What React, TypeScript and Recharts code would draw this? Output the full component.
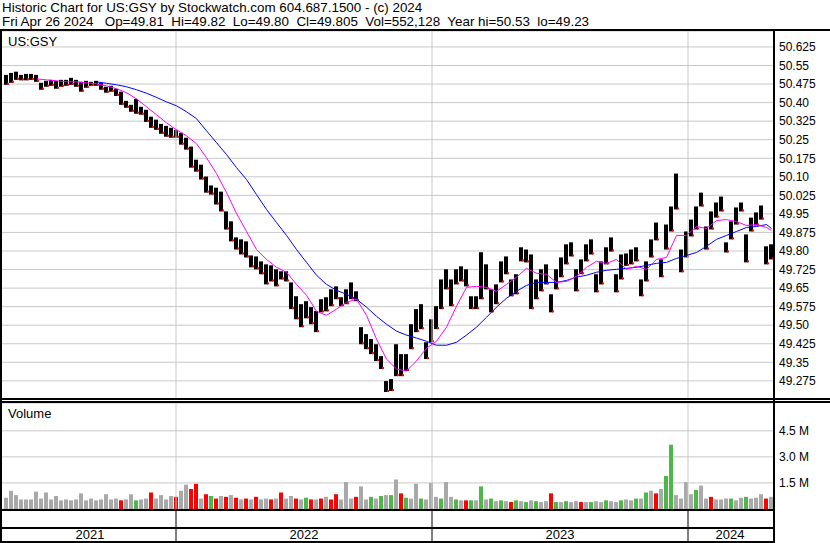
import { ComposedChart, Bar, Line, XAxis, YAxis, CartesianGrid, ReferenceLine, Cell } from 'recharts';

const _ = null;
const FONT = "'Liberation Sans', Arial, sans-serif";

// weekly price ranges (week 0 = first week shown)
const lows = [
  50.472, 50.48, 50.492, 50.49, 50.49, 50.492, 50.484, 50.452, 50.464, 50.468,
  50.456, 50.464, 50.468, 50.472, 50.464, 50.444, 50.46, 50.468, 50.468, 50.452,
  50.44, 50.444, 50.427, 50.391, 50.379, 50.363, 50.355, 50.351, 50.322, 50.298,
  50.29, 50.274, 50.262, 50.258, 50.258, 50.23, 50.21, 50.137, 50.121, 50.089,
  50.036, 50.028, 49.988, 49.96, 49.887, 49.839, 49.806, 49.786, 49.774, 49.734,
  49.726, 49.706, 49.665, 49.677, 49.657, 49.685, 49.677, 49.565, 49.524, 49.492,
  49.528, 49.504, 49.472, 49.552, 49.556, 49.577, 49.605, 49.577, 49.585, 49.605,
  49.597, 49.423, 49.403, 49.383, 49.355, 49.323, 49.23, 49.234, 49.294, 49.294,
  49.315, 49.403, 49.472, 49.484, 49.363, 49.431, 49.484, 49.565, 49.645, 49.577,
  49.665, 49.677, 49.657, 49.565, 49.565, 49.605, 49.645, 49.552, 49.585, 49.673,
  49.706, 49.617, 49.625, 49.758, 49.754, 49.565, 49.605, 49.637, 49.665, 49.552,
  49.645, 49.694, 49.746, 49.778, 49.637, 49.706, 49.758, 49.786, 49.633, 49.665,
  49.746, 49.798, 49.633, 49.685, 49.74, 49.746, 49.758, 49.617, 49.677, 49.774,
  49.843, 49.694, 49.806, 49.879, 49.968, 49.714, 49.774, 49.859, 49.887, 49.98,
  49.806, 49.887, 49.935, 49.96, 49.794, 49.847, 49.907, 49.96, 49.754, 49.879,
  49.903, 49.927, 49.746, 49.766,
];

const highs = [
  50.512, 50.52, 50.525, 50.512, 50.516, 50.516, 50.512, 50.48, 50.488, 50.492,
  50.488, 50.492, 50.492, 50.5, 50.492, 50.484, 50.488, 50.484, 50.488, 50.48,
  50.464, 50.468, 50.456, 50.444, 50.407, 50.391, 50.415, 50.383, 50.371, 50.343,
  50.331, 50.314, 50.306, 50.298, 50.29, 50.278, 50.258, 50.222, 50.169, 50.149,
  50.101, 50.065, 50.056, 50.04, 49.96, 49.92, 49.855, 49.847, 49.839, 49.782,
  49.778, 49.758, 49.746, 49.742, 49.726, 49.718, 49.718, 49.673, 49.617, 49.585,
  49.597, 49.573, 49.557, 49.605, 49.613, 49.645, 49.657, 49.613, 49.645, 49.673,
  49.637, 49.492, 49.464, 49.444, 49.423, 49.375, 49.274, 49.282, 49.423, 49.383,
  49.383, 49.504, 49.565, 49.585, 49.431, 49.524, 49.577, 49.685, 49.726, 49.685,
  49.726, 49.738, 49.726, 49.617, 49.617, 49.795, 49.746, 49.645, 49.665, 49.758,
  49.778, 49.685, 49.706, 49.815, 49.806, 49.786, 49.685, 49.726, 49.746, 49.625,
  49.726, 49.774, 49.827, 49.835, 49.726, 49.766, 49.827, 49.847, 49.706, 49.758,
  49.815, 49.855, 49.706, 49.786, 49.79, 49.806, 49.815, 49.685, 49.758, 49.847,
  49.915, 49.766, 49.907, 49.98, 50.113, 49.806, 49.879, 49.927, 49.98, 50.036,
  49.899, 49.96, 49.996, 50.02, 49.835, 49.92, 49.976, 49.996, 49.867, 49.935,
  49.956, 49.984, 49.819, 49.827,
];

// moving averages, read every other week
const fastMA = [
  _, _, _, _, _, _, 50.496, _, 50.492, _,
  50.488, _, 50.484, _, 50.484, _, 50.48, _, 50.476, _,
  50.468, _, 50.456, _, 50.44, _, 50.415, _, 50.383, _,
  50.351, _, 50.318, _, 50.29, _, 50.266, _, 50.234, _,
  50.177, _, 50.113, _, 50.036, _, 49.952, _, 49.879, _,
  49.806, _, 49.766, _, 49.734, _, 49.714, _, 49.665, _,
  49.621, _, 49.556, _, 49.54, _, 49.565, _, 49.593, _,
  49.605, _, 49.54, _, 49.444, _, 49.363, _, 49.323, _,
  49.315, _, 49.355, _, 49.407, _, 49.435, _, 49.492, _,
  49.577, _, 49.653, _, 49.657, _, 49.653, _, 49.637, _,
  49.665, _, 49.694, _, 49.73, _, 49.71, _, 49.706, _,
  49.673, _, 49.677, _, 49.698, _, 49.734, _, 49.758, _,
  49.75, _, 49.766, _, 49.726, _, 49.738, _, 49.726, _,
  49.766, _, 49.774, _, 49.863, _, 49.863, _, 49.899, _,
  49.891, _, 49.923, _, 49.927, _, 49.919, _, 49.903, _,
  49.907, _, 49.895, 49.883,
];

const slowMA = [
  _, _, _, _, _, _, _, _, _, _,
  _, _, _, _, _, _, _, _, 50.484, _,
  50.478, _, 50.472, _, 50.464, _, 50.452, _, 50.438, _,
  50.421, _, 50.403, _, 50.387, _, 50.363, _, 50.335, _,
  50.286, _, 50.238, _, 50.19, _, 50.137, _, 50.089, _,
  50.028, _, 49.968, _, 49.915, _, 49.863, _, 49.806, _,
  49.754, _, 49.702, _, 49.665, _, 49.641, _, 49.625, _,
  49.605, _, 49.573, _, 49.536, _, 49.504, _, 49.476, _,
  49.46, _, 49.448, _, 49.435, _, 49.419, _, 49.419, _,
  49.431, _, 49.46, _, 49.492, _, 49.532, _, 49.573, _,
  49.609, _, 49.637, _, 49.661, _, 49.673, _, 49.673, _,
  49.673, _, 49.681, _, 49.694, _, 49.702, _, 49.714, _,
  49.722, _, 49.726, _, 49.73, _, 49.734, _, 49.742, _,
  49.75, _, 49.754, _, 49.77, _, 49.782, _, 49.794, _,
  49.819, _, 49.847, _, 49.863, _, 49.879, _, 49.895, _,
  49.899, _, 49.907, 49.891,
];

// volume in millions, with bar tone (g grey, r red, u green)
const volumeM = [
  0.65, 1.05, 0.8, 0.55, 0.55, 0.55, 1.0, 0.6, 0.95, 0.55,
  0.75, 0.5, 0.55, 0.5, 0.55, 0.9, 0.5, 0.6, 0.5, 0.55,
  0.85, 0.55, 0.6, 0.5, 0.55, 0.85, 0.5, 0.55, 0.6, 0.95,
  0.6, 0.8, 0.55, 0.75, 0.7, 1.05, 1.4, 1.15, 1.45, 0.6,
  0.85, 0.75, 0.6, 0.75, 0.7, 0.8, 0.65, 0.55, 0.6, 0.55,
  0.7, 0.55, 0.6, 0.55, 0.6, 0.95, 0.6, 0.75, 0.6, 0.55,
  0.65, 0.55, 0.55, 0.6, 0.7, 0.55, 0.85, 0.55, 1.55, 0.6,
  0.7, 1.3, 0.55, 0.7, 0.6, 0.75, 0.8, 0.8, 1.7, 0.9,
  0.65, 0.6, 1.45, 0.6, 0.55, 1.5, 0.7, 0.6, 1.55, 0.7,
  0.55, 0.5, 0.5, 0.5, 0.5, 1.3, 0.55, 0.6, 0.45, 0.5,
  0.45, 0.4, 0.5, 0.45, 0.4, 0.5, 0.45, 0.4, 0.45, 0.9,
  0.4, 0.4, 0.45, 0.4, 0.45, 0.4, 0.4, 0.4, 0.45, 0.4,
  0.5, 0.45, 0.4, 0.5, 0.55, 0.5, 0.6, 0.6, 0.95, 1.05,
  0.9, 1.15, 1.9, 3.7, 0.8, 0.6, 1.55, 0.85, 1.1, 1.35,
  0.6, 0.7, 0.55, 0.55, 0.6, 0.6, 0.5, 0.65, 0.7, 0.6,
  0.65, 0.85, 0.6, 0.7,
];

const volumeTone = [
  'gggggggggg', 'gggggggggg', 'gggrgguggr', 'ggggrggrrg', 'rurgrgrgrg',
  'rggrgrggrg', 'urgrgrrggg', 'rggugugugr', 'uggugggugg', 'ugrugugugu',
  'gruguguggr', 'uguggrgugg', 'ugguggugug', 'rguuggggug', 'grggguggug', 'ggrg',
].join('');

const toneColour: Record<string, string> = { g: '#a9a9a9', r: '#ff0000', u: '#4cb848' };

const priceTicks = [
  49.275, 49.35, 49.425, 49.5, 49.575, 49.65, 49.725, 49.8, 49.875, 49.95,
  50.025, 50.1, 50.175, 50.25, 50.325, 50.4, 50.475, 50.55, 50.625,
];
const volumeTicks = [1500000, 3000000, 4500000];
const yearBreaks = [172, 428, 684];
const yearCentres = [86, 300, 556, 726];
const yearNames = ['2021', '2022', '2023', '2024'];

const fmtPrice = (v: number) => {
  const s = v.toFixed(3);
  return s.endsWith('0') ? s.slice(0, -1) : s;
};

function PriceBar(props: any) {
  const { x, y, width, height } = props;
  if (x == null || y == null) return null;
  const h = Math.max(height, 1);
  return (
    <g>
      <rect x={x} y={y} width={width} height={h} fill="#000" />
      <rect x={x + width - 1} y={y + h - 2} width={2} height={2} fill="#ff0000" />
    </g>
  );
}

function YearTick(props: any) {
  const { x, y, payload } = props;
  const k = yearCentres.indexOf(payload.value);
  if (k >= 0) {
    return (
      <text x={x} y={y + 30} textAnchor="middle" fontSize={13} fontFamily={FONT} fill="#000">
        {yearNames[k]}
      </text>
    );
  }
  return <line x1={x} x2={x} y1={y} y2={y + 34} stroke="#000" strokeWidth={1} />;
}

const hr = (top: number, height: number, width = 830) => (
  <div style={{ position: 'absolute', left: 0, top, width, height, background: '#000' }} />
);

export default function App() {
  const rows = lows.map((lo, i) => ({
    day: i * 5 + 2.5,
    range: [lo, highs[i]],
    fast: fastMA[i],
    slow: slowMA[i],
    vol: volumeM[i] * 1000000,
    tone: volumeTone[i],
  }));

  const axisTick = { fontSize: 12, fill: '#000', fontFamily: FONT };

  return (
    <div style={{ position: 'fixed', left: 0, top: 0, width: 830, height: 543, background: '#fff', overflow: 'hidden', fontFamily: FONT }}>
      <div style={{ position: 'absolute', left: 2, top: 1, fontSize: 13.4, lineHeight: '14px', whiteSpace: 'pre', color: '#000' }}>
        {'Historic Chart for US:GSY by Stockwatch.com 604.687.1500 - (c) 2024'}
        {'\n'}
        {'Fri Apr 26 2024   Op=49.81  Hi=49.82  Lo=49.80  Cl=49.805  Vol=552,128  Year hi=50.53  lo=49.23'}
      </div>

      <div style={{ position: 'absolute', left: 0, top: 0 }}>
        <ComposedChart width={830} height={399} data={rows} margin={{ top: 31, right: 0, bottom: 0, left: 2 }}>
          <CartesianGrid vertical={false} stroke="#c8c8c8" />
          <XAxis dataKey="day" type="number" domain={[-2, 770]} hide />
          <YAxis
            orientation="right"
            width={56}
            type="number"
            domain={[49.2016, 50.6895]}
            allowDataOverflow
            ticks={priceTicks}
            interval={0}
            tickFormatter={fmtPrice}
            tick={axisTick}
            tickLine={false}
            tickSize={0}
            tickMargin={5}
            axisLine={false}
          />
          {yearBreaks.map((d) => (
            <ReferenceLine key={d} x={d} stroke="#c8c8c8" />
          ))}
          <Bar dataKey="range" barSize={4} shape={<PriceBar />} isAnimationActive={false} />
          <Line dataKey="slow" stroke="#0000ff" strokeWidth={1} dot={false} connectNulls isAnimationActive={false} />
          <Line dataKey="fast" stroke="#ff00ff" strokeWidth={1} dot={false} connectNulls isAnimationActive={false} />
        </ComposedChart>
      </div>

      <div style={{ position: 'absolute', left: 0, top: 403 }}>
        <ComposedChart width={830} height={140} data={rows} margin={{ top: 0, right: 0, bottom: 0, left: 2 }}>
          <CartesianGrid vertical={false} stroke="#c8c8c8" />
          <XAxis
            dataKey="day"
            type="number"
            domain={[-2, 770]}
            ticks={[...yearCentres, ...yearBreaks]}
            interval={0}
            height={34}
            tickLine={false}
            tickSize={0}
            tickMargin={0}
            tick={<YearTick />}
            axisLine={false}
          />
          <YAxis
            orientation="right"
            width={56}
            type="number"
            domain={[0, 6100000]}
            allowDataOverflow
            ticks={volumeTicks}
            interval={0}
            tickFormatter={(v: number) => (v / 1000000).toFixed(1) + ' M'}
            tick={axisTick}
            tickLine={false}
            tickSize={0}
            tickMargin={5}
            axisLine={false}
          />
          {yearBreaks.map((d) => (
            <ReferenceLine key={d} x={d} stroke="#c8c8c8" />
          ))}
          <Bar dataKey="vol" barSize={4} isAnimationActive={false}>
            {rows.map((r, i) => (
              <Cell key={i} fill={toneColour[r.tone]} />
            ))}
          </Bar>
        </ComposedChart>
      </div>

      <div style={{ position: 'absolute', left: 8, top: 34, fontSize: 13, color: '#000' }}>US:GSY</div>
      <div style={{ position: 'absolute', left: 8, top: 406, fontSize: 13, color: '#000' }}>Volume</div>

      {hr(29, 2)}
      {hr(398, 2)}
      {hr(401, 2)}
      {hr(509, 2, 775)}
      {hr(527, 2, 775)}
      {hr(541, 2, 775)}
      <div style={{ position: 'absolute', left: 0, top: 29, width: 2, height: 514, background: '#000' }} />
      <div style={{ position: 'absolute', left: 773, top: 29, width: 2, height: 514, background: '#000' }} />
    </div>
  );
}
